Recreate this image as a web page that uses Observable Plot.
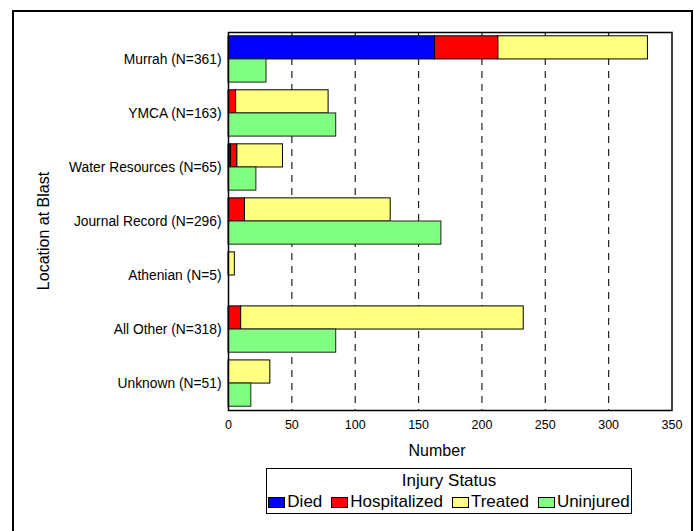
<!DOCTYPE html>
<html>
<head>
<meta charset="utf-8">
<script src="https://cdn.jsdelivr.net/npm/d3@7"></script>
<script src="https://cdn.jsdelivr.net/npm/@observablehq/plot@0.6"></script>
<style>
  body { margin: 0; background: #fff; font-family: "Liberation Sans", Arial, sans-serif; }
  #wrap { position: relative; width: 694px; height: 531px; overflow: hidden; background: #fff; }
  #outer { position: absolute; left: 12px; top: 10px; width: 681px; height: 560px; border: 2px solid #000; box-sizing: border-box; z-index: 3; pointer-events: none; }
  #chart { position: absolute; left: 0; top: 0; }
  #xtitle { position: absolute; left: 437px; top: 451px; transform: translate(-50%, -50%); font-size: 16px; white-space: nowrap; }
  #ytitle { position: absolute; left: 44px; top: 231px; transform: translate(-50%, -50%) rotate(-90deg); font-size: 16px; white-space: nowrap; }
  #legend { position: absolute; left: 266px; top: 468px; width: 366px; height: 46px; border: 1px solid #000; box-sizing: border-box; background: #fff; }
  #legend .title { text-align: center; font-size: 17px; line-height: 19px; margin-top: 2px; }
  #legend .items { display: flex; justify-content: center; align-items: center; font-size: 17px; line-height: 20px; margin-top: 2px; }
  #legend .item { display: flex; align-items: center; margin: 0 4.5px; }
  #legend .sw { width: 15px; height: 9px; border: 1px solid #000; margin-right: 2px; }
</style>
</head>
<body>
<div id="wrap">
  <div id="chart"></div>
  <div id="xtitle">Number</div>
  <div id="ytitle">Location at Blast</div>
  <div id="legend"></div>
  <div id="outer"></div>
</div>
<script>
const categories = ["Murrah (N=361)", "YMCA (N=163)", "Water Resources (N=65)", "Journal Record (N=296)", "Athenian (N=5)", "All Other (N=318)", "Unknown (N=51)"];
const died         = [163, 0, 2, 0, 0, 0, 0];
const hospitalized = [50, 6, 5, 13, 0, 10, 0];
const treated      = [118, 73, 36, 115, 5, 223, 33];
const uninjured    = [30, 85, 22, 168, 0, 85, 18];
const statuses = ["Died", "Hospitalized", "Treated", "Uninjured"];
const colors   = ["#0000ff", "#ff0000", "#ffff80", "#80ff80"];
const xTicks   = [0, 50, 100, 150, 200, 250, 300, 350];

const injuredRows = [];
categories.forEach((c, i) => {
  [["Died", died], ["Hospitalized", hospitalized], ["Treated", treated]].forEach(([s, arr]) => {
    if (arr[i] > 0) injuredRows.push({category: c, status: s, value: arr[i]});
  });
});
const uninjuredRows = categories.map((c, i) => ({category: c, status: "Uninjured", value: uninjured[i]})).filter(d => d.value > 0);

const W = 694, H = 465, mT = 32, mB = 55, mL = 228, mR = 22.5;
const pIn = 0.143, pOut = 0.07;
const bw = (H - mT - mB) / (categories.length - pIn + 2 * pOut) * (1 - pIn);
const half = bw / 2;

const chart = Plot.plot({
  width: W, height: H,
  marginTop: mT, marginBottom: mB, marginLeft: mL, marginRight: mR,
  style: {fontFamily: "'Liberation Sans', Arial, sans-serif", fontSize: "12.5px", background: "transparent", color: "#000"},
  x: {domain: [0, 350], ticks: xTicks, label: null},
  y: {domain: categories, paddingInner: pIn, paddingOuter: pOut, round: false, label: null},
  color: {domain: statuses, range: colors},
  marks: [
    Plot.ruleX(xTicks.filter(t => t > 0 && t < 350), {stroke: "#222", strokeWidth: 1.2, strokeDasharray: "7,6"}),
    Plot.barX(injuredRows, {x: "value", y: "category", fill: "status", stroke: "#000", strokeWidth: 1, insetBottom: half}),
    Plot.barX(uninjuredRows, {x: "value", y: "category", fill: "status", stroke: "#222", strokeWidth: 1, insetTop: half}),
    Plot.frame({stroke: "#000", strokeWidth: 1.5}),
    Plot.axisX({ticks: xTicks, tickSize: 0, tickPadding: 10, fontSize: 12.5, label: null}),
    Plot.axisY({tickSize: 0, tickPadding: 7, fontSize: 13.8, label: null})
  ]
});
document.getElementById("chart").appendChild(chart);

const legend = document.getElementById("legend");
legend.innerHTML = '<div class="title">Injury Status</div><div class="items">' +
  statuses.map((s, i) => `<div class="item"><span class="sw" style="background:${colors[i]}"></span>${s}</div>`).join("") +
  '</div>';
</script>
</body>
</html>
